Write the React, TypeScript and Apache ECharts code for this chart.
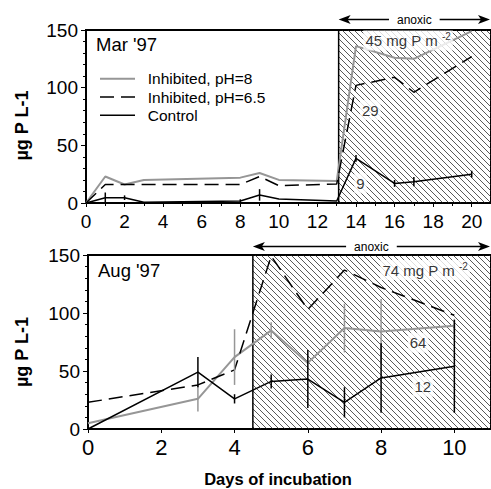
import React, { useEffect, useRef } from "react";
import * as echarts from "echarts";

// ---- Data ----
const marDays = [0, 1, 2, 3, 8, 9, 10, 13, 14, 16, 17, 20];
const marPh8 = [0, 23, 16, 20, 22, 26, 20, 19, 136, 126, 125, 149];
const marPh65 = [0, 16, 16, 16, 16, 23, 15, 16.5, 102, 109, 96, 127];
const marControl = [0, 4.6, 4.6, 0.6, 1.7, 7, 3.5, 1.7, 38.7, 17, 18.5, 25];
const marControlErr = [0, 4.5, 2, 0, 1.5, 5, 0, 0, 3, 3, 4, 3];

const augDays = [0, 3, 4, 5, 6, 7, 8, 10];
const augPh8 = [5, 26, 62, 85, 57, 87, 84, 89];
const augPh65 = [23, 38, 51, 149, 103, 137, 122, 98];
const augControl = [0, 49, 26, 41, 43, 23, 44, 54];
const augPh8Err = [0, 11, 24, 7, 0, 21, 28, 6];
const augControlErr = [0, 13, 4, 6, 25, 13, 30, 40];

const marAnoxicStart = 13.1;
const augAnoxicStart = 4.5;
const marXMax = 21;
const augXMax = 11;
const yMax = 150;

const seriesNames = ["Inhibited, pH=8", "Inhibited, pH=6.5", "Control"];

const marNotes = [
  { text: "45 mg P m ", sup: "-2", x: 16.7, y: 141 },
  { text: "29", sup: "", x: 14.74, y: 80.6 },
  { text: "9", sup: "", x: 14.23, y: 17 },
];
const augNotes = [
  { text: "74 mg P m ", sup: "-2", x: 9.2, y: 137 },
  { text: "64", sup: "", x: 9.01, y: 74.4 },
  { text: "12", sup: "", x: 9.14, y: 36.5 },
];

const FONT = "Liberation Sans, Arial, Helvetica, sans-serif";
const GRAY = "#969696";
const DASH = [14, 7];

function pairs(xs: number[], ys: number[]) {
  return xs.map((x, i) => [x, ys[i]]);
}
function errData(xs: number[], ys: number[], es: number[]) {
  const out: number[][] = [];
  xs.forEach((x, i) => {
    if (es[i] > 0) out.push([x, ys[i] - es[i], ys[i] + es[i]]);
  });
  return out;
}

function makeHatch() {
  const c = document.createElement("canvas");
  c.width = 6;
  c.height = 6;
  const ctx = c.getContext("2d")!;
  ctx.strokeStyle = "#5a5a5a";
  ctx.lineWidth = 1;
  ctx.beginPath();
  ctx.moveTo(-1, -1);
  ctx.lineTo(7, 7);
  ctx.moveTo(-1, 5);
  ctx.lineTo(1, 7);
  ctx.moveTo(5, -1);
  ctx.lineTo(7, 1);
  ctx.stroke();
  return c;
}

export default function App() {
  const ref = useRef<HTMLDivElement>(null);

  useEffect(() => {
    if (!ref.current) return;
    const chart = echarts.init(ref.current, undefined, { renderer: "svg" });
    const hatch = makeHatch();

    const xAxisCommon = (gi: number, max: number, fontSize: number, margin: number, minor: boolean) => ({
      gridIndex: gi,
      type: "value",
      min: 0,
      max,
      interval: 2,
      axisLine: { show: true, onZero: false, lineStyle: { color: "#000", width: 2 } },
      axisTick: { show: true, inside: false, length: 4, lineStyle: { color: "#000", width: 1 } },
      minorTick: { show: minor, splitNumber: 2, length: 3, lineStyle: { color: "#000", width: 1 } },
      axisLabel: { show: true, fontSize, color: "#000", margin, fontFamily: FONT, showMaxLabel: false },
      splitLine: { show: false },
      minorSplitLine: { show: false },
    });
    const yAxisCommon = (gi: number) => ({
      gridIndex: gi,
      type: "value",
      min: 0,
      max: yMax,
      interval: 50,
      axisLine: { show: true, lineStyle: { color: "#000", width: 1.5 } },
      axisTick: { show: true, inside: false, length: 5, lineStyle: { color: "#000", width: 1 } },
      minorTick: { show: true, splitNumber: 5, length: 3, lineStyle: { color: "#000", width: 1 } },
      axisLabel: { fontSize: 19, color: "#000", margin: 8, fontFamily: FONT },
      splitLine: { show: false },
      minorSplitLine: { show: false },
    });

    const lineSeries = (gi: number, xs: number[], ph8: number[], ph65: number[], ctl: number[]) => [
      {
        name: seriesNames[0],
        type: "line",
        xAxisIndex: gi,
        yAxisIndex: gi,
        data: pairs(xs, ph8),
        symbol: "none",
        z: 4,
        lineStyle: { color: GRAY, width: 2 },
        itemStyle: { color: GRAY },
      },
      {
        name: seriesNames[1],
        type: "line",
        xAxisIndex: gi,
        yAxisIndex: gi,
        data: pairs(xs, ph65),
        symbol: "none",
        z: 4,
        lineStyle: { color: "#000", width: 1.5, type: DASH },
        itemStyle: { color: "#000" },
      },
      {
        name: seriesNames[2],
        type: "line",
        xAxisIndex: gi,
        yAxisIndex: gi,
        data: pairs(xs, ctl),
        symbol: "none",
        z: 5,
        lineStyle: { color: "#000", width: 1.5 },
        itemStyle: { color: "#000" },
      },
    ];

    const errSeries = (gi: number, data: number[][], color: string, name: string) => ({
      name,
      type: "custom",
      xAxisIndex: gi,
      yAxisIndex: gi,
      z: 5,
      encode: { x: 0, y: [1, 2] },
      data,
      renderItem: (params: any, api: any) => {
        const x = api.value(0);
        const p1 = api.coord([x, api.value(1)]);
        const p2 = api.coord([x, api.value(2)]);
        return {
          type: "line",
          shape: { x1: p1[0], y1: p1[1], x2: p2[0], y2: p2[1] },
          style: { stroke: color, lineWidth: 1.5 },
        };
      },
    });

    const areaSeries = (gi: number, start: number, max: number, name: string) => ({
      name,
      type: "line",
      xAxisIndex: gi,
      yAxisIndex: gi,
      data: [[start, 0]],
      symbol: "none",
      showSymbol: false,
      z: 1,
      lineStyle: { opacity: 0 },
      markArea: {
        silent: true,
        z: 1,
        itemStyle: {
          color: { image: hatch, repeat: "repeat" },
          borderColor: "#000",
          borderWidth: 1.5,
        },
        data: [[{ xAxis: start, yAxis: 0 }, { xAxis: max, yAxis: yMax }]],
      },
    });

    const noteSeries = (gi: number, notes: typeof marNotes, name: string) => ({
      name,
      type: "scatter",
      xAxisIndex: gi,
      yAxisIndex: gi,
      z: 8,
      symbolSize: 1,
      itemStyle: { color: "rgba(0,0,0,0)" },
      silent: true,
      data: notes.map((n) => ({
        value: [n.x, n.y],
        label: {
          show: true,
          position: "inside",
          formatter: n.sup ? `{t|${n.text}}{s|${n.sup}}` : `{t|${n.text}}`,
          backgroundColor: "#fff",
          padding: [1, 2, 1, 2],
          rich: {
            t: { fontSize: 15, lineHeight: 18, color: "#000", fontFamily: FONT, verticalAlign: "middle" },
            s: { fontSize: 10, lineHeight: 10, color: "#000", fontFamily: FONT, verticalAlign: "top" },
          },
        },
      })),
    });

    const option: any = {
      animation: false,
      backgroundColor: "#fff",
      textStyle: { fontFamily: FONT },
      grid: [
        { left: 86, top: 30, width: 412, height: 173, show: true, borderColor: "#000", borderWidth: 2, backgroundColor: "transparent" },
        { left: 88, top: 255, width: 412, height: 174, show: true, borderColor: "#000", borderWidth: 2, backgroundColor: "transparent" },
      ],
      xAxis: [xAxisCommon(0, marXMax, 19, 9, true), xAxisCommon(1, augXMax, 22, 7, false)],
      yAxis: [yAxisCommon(0), yAxisCommon(1)],
      series: [
        areaSeries(0, marAnoxicStart, marXMax, "anoxicMar"),
        areaSeries(1, augAnoxicStart, augXMax, "anoxicAug"),
        ...lineSeries(0, marDays, marPh8, marPh65, marControl),
        ...lineSeries(1, augDays, augPh8, augPh65, augControl),
        errSeries(0, errData(marDays, marControl, marControlErr), "#000", "errMarCtl"),
        errSeries(1, errData(augDays, augPh8, augPh8Err), GRAY, "errAugPh8"),
        errSeries(1, errData(augDays, augControl, augControlErr), "#000", "errAugCtl"),
        noteSeries(0, marNotes, "notesMar"),
        noteSeries(1, augNotes, "notesAug"),
      ],
    };
    chart.setOption(option);

    const W = chart.getWidth();
    const arrow = (xL: number, xR: number, y: number) => ({
      type: "group",
      z: 20,
      children: [
        { type: "line", shape: { x1: xL + 5, y1: y, x2: xR - 5, y2: y }, style: { stroke: "#000", lineWidth: 1.3 } },
        { type: "polygon", shape: { points: [[xL, y], [xL + 12, y - 4.5], [xL + 9, y], [xL + 12, y + 4.5]] }, style: { fill: "#000" } },
        { type: "polygon", shape: { points: [[xR, y], [xR - 12, y - 4.5], [xR - 9, y], [xR - 12, y + 4.5]] }, style: { fill: "#000" } },
        {
          type: "text",
          x: (xL + xR) / 2,
          y,
          style: {
            text: "anoxic",
            fontSize: 12,
            fontFamily: FONT,
            fill: "#000",
            align: "center",
            verticalAlign: "middle",
            backgroundColor: "#fff",
            padding: [0, 8, 0, 8],
          },
        },
      ],
    });
    const mL = chart.convertToPixel({ xAxisIndex: 0 }, marAnoxicStart) as number;
    const mTop = chart.convertToPixel({ yAxisIndex: 0 }, yMax) as number;
    const aL = chart.convertToPixel({ xAxisIndex: 1 }, augAnoxicStart) as number;
    const aTop = chart.convertToPixel({ yAxisIndex: 1 }, yMax) as number;

    const txt = (text: string, x: number, y: number, size: number, opts: any = {}) => ({
      type: "text",
      x,
      y,
      z: 20,
      ...opts,
      style: { text, fontSize: size, fontFamily: FONT, fill: "#000", ...(opts.style || {}) },
    });

    // legend (drawn as graphic so the line styles match the series)
    const legendStyles = [
      { stroke: GRAY, lineWidth: 2 },
      { stroke: "#000", lineWidth: 1.5, lineDash: DASH },
      { stroke: "#000", lineWidth: 1.5 },
    ];
    const legendX = 100;
    const legendTop = 78.7;
    const legendRow = 18.3;
    const legendItems: any[] = [];
    seriesNames.forEach((name, i) => {
      const y = legendTop + i * legendRow;
      legendItems.push({
        type: "line",
        z: 20,
        shape: { x1: legendX, y1: y, x2: legendX + 35, y2: y },
        style: legendStyles[i],
      });
      legendItems.push(txt(name, legendX + 47.7, y, 15.5, { style: { align: "left", verticalAlign: "middle" } }));
    });

    chart.setOption({
      graphic: [
        arrow(mL, W - 1, mTop - 10.5),
        arrow(aL, W - 1, aTop - 8.5),
        ...legendItems,
        txt("Mar '97", 96, 44.7, 18.5, { style: { align: "left", verticalAlign: "middle" } }),
        txt("Aug '97", 98, 270, 18.5, { style: { align: "left", verticalAlign: "middle" } }),
        txt("µg P L-1", 21.7, 125.5, 18, { rotation: Math.PI / 2, style: { align: "center", verticalAlign: "middle", fontWeight: "bold" } }),
        txt("µg P L-1", 22, 352, 18, { rotation: Math.PI / 2, style: { align: "center", verticalAlign: "middle", fontWeight: "bold" } }),
        txt("Days of incubation", 278, 479, 16.5, { style: { align: "center", verticalAlign: "middle", fontWeight: "bold" } }),
      ],
    });

    return () => chart.dispose();
  }, []);

  return (
    <div
      ref={ref}
      style={{ position: "fixed", left: 0, top: 0, width: 491, height: 489, background: "#fff" }}
    />
  );
}
